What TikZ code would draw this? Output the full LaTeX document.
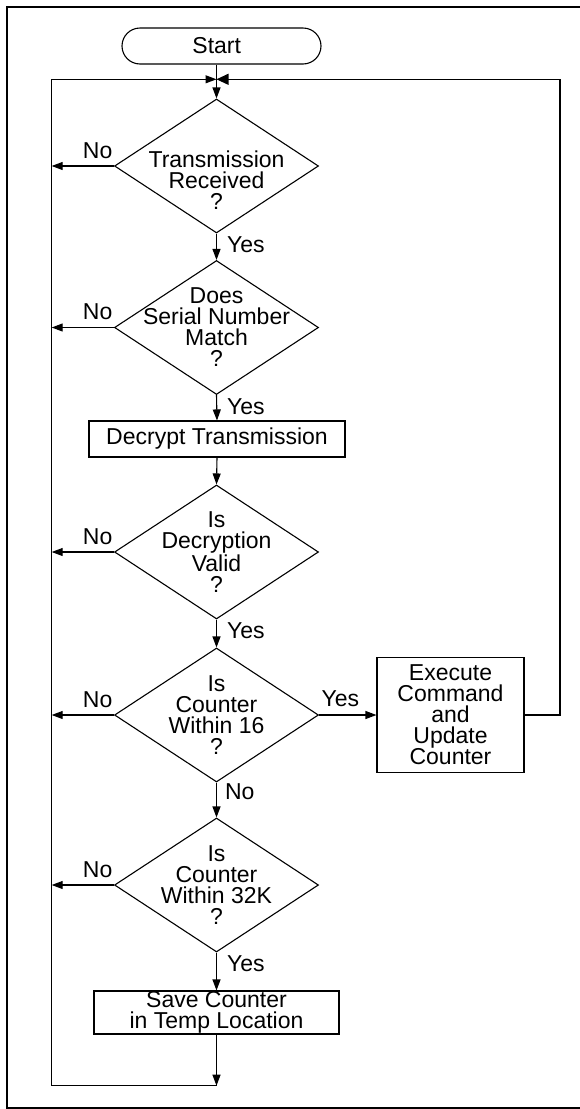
\documentclass[tikz,border=0pt]{standalone}
\usepackage{fontspec}
\setmainfont{Liberation Sans}
\usetikzlibrary{arrows.meta,shapes.geometric}
\begin{document}
\begin{tikzpicture}[x=1pt,y=-1pt,line width=1.1pt,
    >={Triangle[length=11pt,width=8pt]},
    every node/.style={font=\fontsize{23}{21}\selectfont},
    every label/.style={align=center,inner sep=0pt},
    decide/.style={diamond,draw,minimum width=204pt,minimum height=134pt,inner sep=0pt},
    stepbox/.style={rectangle,draw,align=center,inner sep=0pt},
    ans/.style={inner sep=0pt}]
  \useasboundingbox (0,0) rectangle (579,1109);
  \draw[line width=2pt] (582,6.7) -- (7.3,6.7) -- (7.3,1107.7) -- (582,1107.7);
  % boxes and decisions
  \node[stepbox,rounded corners=18pt,minimum width=199pt,minimum height=36pt] (start) at (221.5,46) {Start\hspace*{9.6pt}};
  \node[decide,label={[yshift=-14pt]center:Transmission\\Received\\?}] (d1) at (216.5,166) {};
  \node[decide,label={center:Does\\Serial Number\\Match\\?}] (d2) at (216.5,327.5) {};
  \node[stepbox,minimum width=256pt,minimum height=36pt] (decrypt) at (217,439) {Decrypt Transmission};
  \node[decide,label={center:Is\\Decryption\\Valid\\?}] (d3) at (216.5,552) {};
  \node[decide,label={center:Is\\Counter\\Within 16\\?}] (d4) at (216.5,715) {};
  \node[stepbox,minimum width=147pt,minimum height=115pt] (exec) at (450.5,715) {Execute\\Command\\and\\Update\\Counter};
  \node[decide,label={center:Is\\Counter\\Within 32K\\?}] (d5) at (216.5,885) {};
  \node[stepbox,minimum width=245pt,minimum height=43pt] (save) at (216.5,1012.5) {Save Counter\\in Temp Location};
  % loop corners
  \coordinate (top) at (216.5,79.3);
  \coordinate (lft) at (51.7,79.3);
  \coordinate (rgt) at (560,79.3);
  \coordinate (bot) at (216.5,1085.7);
  % flow
  \draw[->] (start.south -| top) -- (d1.north);
  \draw[->] (d1.south) -- (d2.north);
  \draw[->] (d2.south) -- (decrypt.north);
  \draw[->] (decrypt.south) -- (d3.north);
  \draw[->] (d3.south) -- (d4.north);
  \draw[->] (d4.south) -- (d5.north);
  \draw[->] (d5.south) -- (save.north);
  \draw[->] (save.south) -- (bot);
  \draw[->] (d4.east) -- (exec.west);
  \draw[->] (bot) -- (bot -| lft) -- (lft) -- (top);
  \draw[-{Triangle[length=12pt,width=11pt]}] (exec.east) -- (exec.east -| rgt) -- (rgt) -- (top);
  \foreach \d in {d1,d2,d3,d4,d5}
    \draw[->] (\d.west) -- (\d.west -| lft);
  % answers
  \foreach \d in {d1,d2,d3,d4,d5}
    \node[ans,anchor=base east] (\d-no) at ([xshift=-1pt,yshift=8pt]\d.west) {No};
  \foreach \d in {d1,d2,d3,d5}
    \node[ans,anchor=north west] (\d-yes) at ([xshift=10pt,yshift=-3pt]\d.south) {Yes};
  \node[ans,anchor=north west] (d4-down) at ([xshift=8pt,yshift=-1pt]d4.south) {No};
  \node[ans,anchor=base west] (d4-yes) at ([xshift=2pt,yshift=9pt]d4.east) {Yes};
\end{tikzpicture}
\end{document}
